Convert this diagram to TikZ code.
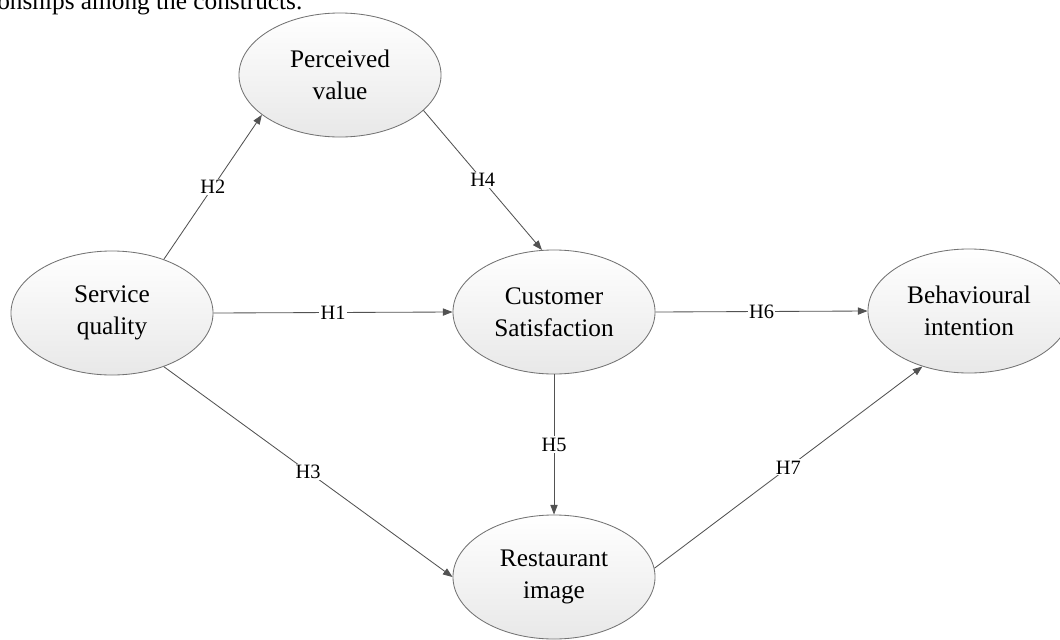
\documentclass[tikz,border=0pt]{standalone}
\usepackage{fontspec}
\setmainfont{Liberation Serif}
\usetikzlibrary{shapes.geometric,arrows.meta}

\tikzset{
  construct/.style={ellipse, draw=black!55, line width=0.6pt,
    top color=white, bottom color=black!9,
    minimum width=5.05cm, minimum height=3.1cm, inner sep=0pt,
    align=center, font=\fontsize{18}{22.5}\selectfont},
  link/.style={draw=black!68, line width=0.6pt,
    -{Triangle[length=2.4mm,width=1.8mm]}},
  hyp/.style={midway, fill=white, inner sep=1pt,
    font=\fontsize{14.5}{16}\selectfont}
}

\begin{document}
\begin{tikzpicture}[x=0.025cm,y=-0.025cm]
\useasboundingbox (0,0) rectangle (1060,639);
\clip (0,0) rectangle (1060,639);
\node[anchor=base west, inner sep=0pt, font=\fontsize{18}{22}\selectfont] (caption) at (-3,9) {onships among the constructs.};
% constructs
\node[construct] (pv) at (340,75) {Perceived\\value};
\node[construct] (sq) at (112,313) {Service\\quality};
\node[construct] (cs) at (554,312) {Customer\\Satisfaction};
\node[construct] (bi) at (969,311) {Behavioural\\intention};
\node[construct] (ri) at (554,577) {Restaurant\\image};
% hypotheses
\draw[link] (sq.east) -- node[hyp] {H1} (cs.west);
\draw[link] (sq.46) -- node[hyp] {H2} (pv.207);
\draw[link] (sq.-46) -- node[hyp] {H3} (ri.west);
\draw[link] (pv.-23) -- node[hyp] {H4} (cs.101);
\draw[link] (cs.south) -- node[hyp] {H5} (ri.north);
\draw[link] (cs.east) -- node[hyp] {H6} (bi.west);
\draw[link] (ri.5) -- node[hyp] {H7} (bi.230);
\end{tikzpicture}
\end{document}
